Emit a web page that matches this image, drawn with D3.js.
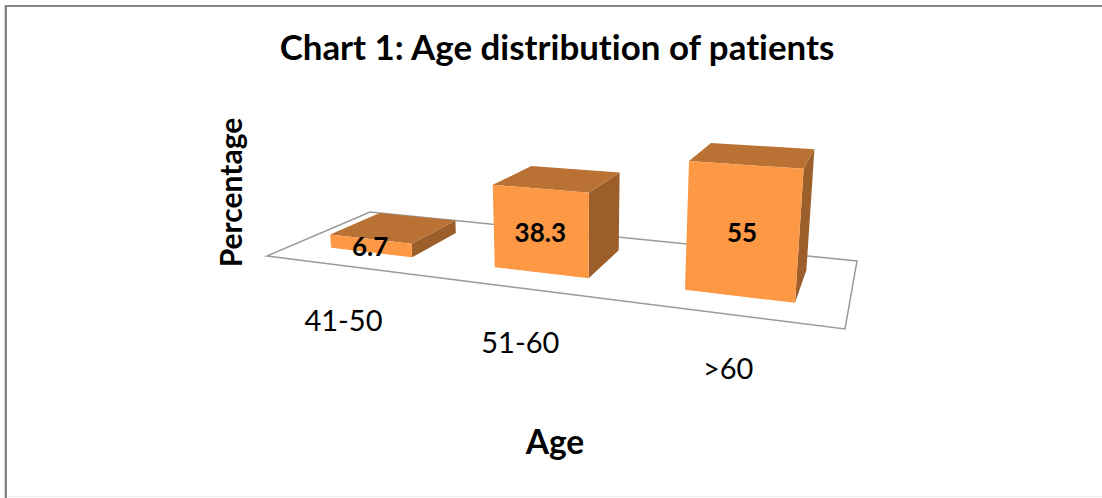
<!DOCTYPE html>
<html><head><meta charset="utf-8">
<script src="https://cdn.jsdelivr.net/npm/d3@7"></script>
<style>html,body{margin:0;padding:0;background:#fff}svg{display:block}text{font-family:Lato,"Open Sans",sans-serif;fill:#000;font-variant-ligatures:none}</style>
</head><body><div id="chart"></div>
<script>
const categories = ["41-50", "51-60", ">60"];
const values = [6.7, 38.3, 55];
const chartTitle = "Chart 1: Age distribution of patients";
const xTitle = "Age";
const yTitle = "Percentage";

const W = 1102, H = 498;
const svg = d3.select("#chart").append("svg").attr("width", W).attr("height", H);

// Floor corners of the 3D plot: front-left, front-right, back-right, back-left
const FL=[267,256], FR=[845,329], BR=[857,261], BL=[370,212];
const VP=[578,3700]; // vanishing point of the vertical edges
function solveSquare(p0,p1,p2,p3){
  const dx1=p1[0]-p2[0],dx2=p3[0]-p2[0],sx=p0[0]-p1[0]+p2[0]-p3[0];
  const dy1=p1[1]-p2[1],dy2=p3[1]-p2[1],sy=p0[1]-p1[1]+p2[1]-p3[1];
  const d=dx1*dy2-dx2*dy1;
  const g=(sx*dy2-dx2*sy)/d,h=(dx1*sy-sx*dy1)/d;
  return [[p1[0]-p0[0]+g*p1[0],p3[0]-p0[0]+h*p3[0],p0[0]],
          [p1[1]-p0[1]+g*p1[1],p3[1]-p0[1]+h*p3[1],p0[1]],
          [g,h,1]];
}
const M=solveSquare(FL,FR,BR,BL);
const yScale=d3.scaleLinear().domain([0,60]).range([0,0.0352]);
function project(u,w,val){
  const t=yScale(val||0);
  const X=M[0][0]*u+M[0][1]*w+M[0][2]-t*VP[0];
  const Y=M[1][0]*u+M[1][1]*w+M[1][2]-t*VP[1];
  const Z=M[2][0]*u+M[2][1]*w+M[2][2]-t;
  return [X/Z,Y/Z];
}
const line=d3.line();
// outer frame
svg.append("path").attr("d","M4.5 498V5").attr("fill","none").attr("stroke","#d0d0d0").attr("stroke-width",1);
svg.append("path").attr("d","M6 498V6H1102").attr("fill","none").attr("stroke","#868686").attr("stroke-width",2);
svg.append("path").attr("d","M8 496.5H1102").attr("fill","none").attr("stroke","#ececec").attr("stroke-width",1);
// floor
svg.append("path").attr("d",line([FL,FR,BR,BL])+"Z").attr("fill","#fff").attr("stroke","#9a9a9a").attr("stroke-width",1.5);

const band=d3.scaleBand().domain(categories).range([0,1]).paddingInner(0.487).paddingOuter(0.234);
const depth=d3.scaleLinear().domain([0,1]).range([0.248,0.75]);
const g=svg.append("g");
categories.forEach((c,i)=>{
  const u0=band(c),u1=u0+band.bandwidth(),w0=depth(0),w1=depth(1),v=values[i];
  g.append("path").attr("d",line([project(u1,w0,0),project(u1,w1,0),project(u1,w1,v),project(u1,w0,v)])+"Z").attr("fill","#9c5f2b");
  g.append("path").attr("d",line([project(u0,w0,v),project(u1,w0,v),project(u1,w1,v),project(u0,w1,v)])+"Z").attr("fill","#b97233");
  g.append("path").attr("d",line([project(u0,w0,0),project(u1,w0,0),project(u1,w0,v),project(u0,w0,v)])+"Z").attr("fill","#fd9845");
  const a=project(u0,w0,v/2),b=project(u1,w0,v/2);
  svg.append("text").attr("x",(a[0]+b[0])/2-1).attr("y",(a[1]+b[1])/2+10.5).attr("text-anchor","middle").attr("font-weight",700).attr("font-size",26).text(v);
  const f=project((u0+u1)/2,0,0);
  svg.append("text").attr("x",f[0]-1).attr("y",f[1]+65).attr("text-anchor","middle").attr("font-size",29).text(c);
});
svg.append("text").attr("x",557).attr("y",60).attr("text-anchor","middle").attr("font-weight",700).attr("font-size",34.9).text(chartTitle);
svg.append("text").attr("x",555).attr("y",454).attr("text-anchor","middle").attr("font-weight",700).attr("font-size",33.5).text(xTitle);
svg.append("text").attr("transform","translate(242,192.5) rotate(-90)").attr("text-anchor","middle").attr("font-weight",700).attr("font-size",30).text(yTitle);
</script></body></html>
